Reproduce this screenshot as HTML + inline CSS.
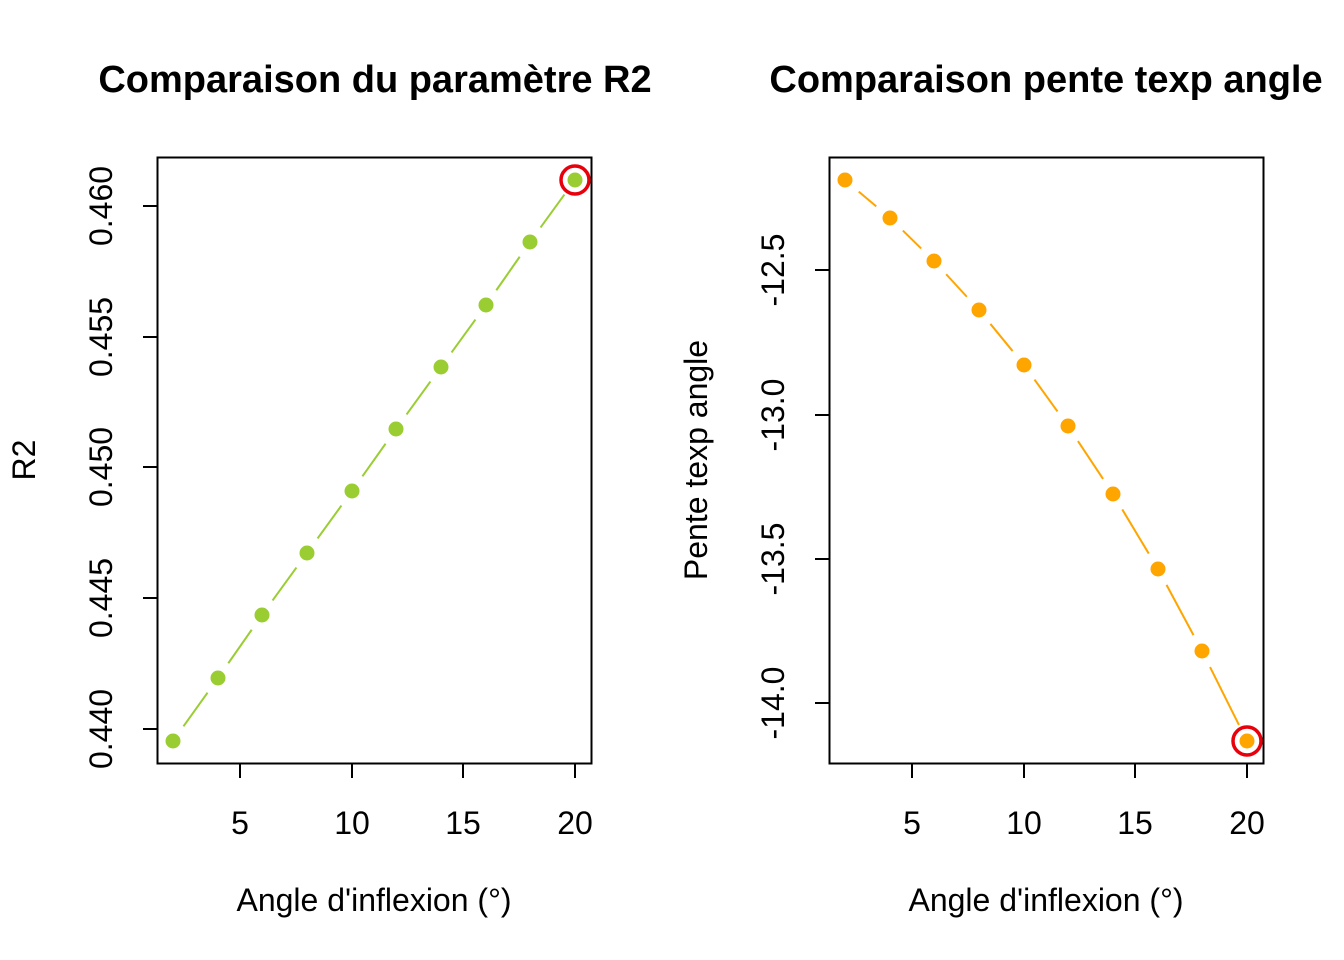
<!DOCTYPE html>
<html><head><meta charset="utf-8"><style>body{margin:0;background:#fff}svg{display:block}</style></head>
<body>
<svg id="s" width="1344" height="960" viewBox="0 0 1344 960" xmlns="http://www.w3.org/2000/svg" font-family="Liberation Sans, sans-serif">
<rect width="1344" height="960" fill="#fff"/>
<text x="375" y="92" font-size="38" font-weight="bold" text-anchor="middle">Comparaison du paramètre R2</text>
<rect x="157.5" y="157.5" width="434" height="606" fill="none" stroke="#000" stroke-width="2"/>
<g stroke="#000" stroke-width="2">
<line x1="240" y1="764" x2="240" y2="778"/><line x1="352" y1="764" x2="352" y2="778"/><line x1="463" y1="764" x2="463" y2="778"/><line x1="575" y1="764" x2="575" y2="778"/>
<line x1="157" y1="206" x2="143" y2="206"/><line x1="157" y1="337" x2="143" y2="337"/><line x1="157" y1="467" x2="143" y2="467"/><line x1="157" y1="598" x2="143" y2="598"/><line x1="157" y1="729" x2="143" y2="729"/>
</g>
<g font-size="32" text-anchor="middle">
<text x="240" y="834">5</text><text x="352" y="834">10</text><text x="463" y="834">15</text><text x="575" y="834">20</text>
<text transform="translate(112,206) rotate(-90)">0.460</text>
<text transform="translate(112,337) rotate(-90)">0.455</text>
<text transform="translate(112,467) rotate(-90)">0.450</text>
<text transform="translate(112,598) rotate(-90)">0.445</text>
<text transform="translate(112,729) rotate(-90)">0.440</text>
<text x="374" y="911">Angle d'inflexion (°)</text>
<text transform="translate(35,460) rotate(-90)">R2</text>
</g>
<g id="L1" stroke="#9ACD32" stroke-width="2"></g>
<g fill="#9ACD32">
<circle cx="173" cy="741" r="7.5"/><circle cx="218" cy="678" r="7.5"/><circle cx="262" cy="615" r="7.5"/><circle cx="307" cy="553" r="7.5"/><circle cx="352" cy="491" r="7.5"/><circle cx="396" cy="429" r="7.5"/><circle cx="441" cy="367" r="7.5"/><circle cx="486" cy="305" r="7.5"/><circle cx="530" cy="242" r="7.5"/><circle cx="575" cy="180" r="7.5"/>
</g>
<circle cx="575" cy="180" r="14" fill="none" stroke="#E8000B" stroke-width="3.5"/>

<text x="1046" y="92" font-size="38" font-weight="bold" text-anchor="middle">Comparaison pente texp angle</text>
<rect x="829.5" y="157.5" width="434" height="606" fill="none" stroke="#000" stroke-width="2"/>
<g stroke="#000" stroke-width="2">
<line x1="912" y1="764" x2="912" y2="778"/><line x1="1024" y1="764" x2="1024" y2="778"/><line x1="1135" y1="764" x2="1135" y2="778"/><line x1="1247" y1="764" x2="1247" y2="778"/>
<line x1="829" y1="270" x2="815" y2="270"/><line x1="829" y1="415" x2="815" y2="415"/><line x1="829" y1="559" x2="815" y2="559"/><line x1="829" y1="703" x2="815" y2="703"/>
</g>
<g font-size="32" text-anchor="middle">
<text x="912" y="834">5</text><text x="1024" y="834">10</text><text x="1135" y="834">15</text><text x="1247" y="834">20</text>
<text transform="translate(784,270) rotate(-90)">-12.5</text>
<text transform="translate(784,415) rotate(-90)">-13.0</text>
<text transform="translate(784,559) rotate(-90)">-13.5</text>
<text transform="translate(784,703) rotate(-90)">-14.0</text>
<text x="1046" y="911">Angle d'inflexion (°)</text>
<text transform="translate(707,460) rotate(-90)">Pente texp angle</text>
</g>
<g id="L2" stroke="#FFA500" stroke-width="2"></g>
<g fill="#FFA500">
<circle cx="845" cy="180" r="7.5"/><circle cx="890" cy="218" r="7.5"/><circle cx="934" cy="261" r="7.5"/><circle cx="979" cy="310" r="7.5"/><circle cx="1024" cy="365" r="7.5"/><circle cx="1068" cy="426" r="7.5"/><circle cx="1113" cy="494" r="7.5"/><circle cx="1158" cy="569" r="7.5"/><circle cx="1202" cy="651" r="7.5"/><circle cx="1247" cy="741" r="7.5"/>
</g>
<circle cx="1247" cy="741" r="14" fill="none" stroke="#E8000B" stroke-width="3.5"/>
</svg>
<script>
function seg(id,pts){var g=document.getElementById(id),h='';for(var i=0;i<pts.length-1;i++){var a=pts[i],b=pts[i+1],dx=b[0]-a[0],dy=b[1]-a[1],d=Math.hypot(dx,dy),t=18/d;if(t>=0.5)continue;h+='<line x1="'+(a[0]+dx*t)+'" y1="'+(a[1]+dy*t)+'" x2="'+(b[0]-dx*t)+'" y2="'+(b[1]-dy*t)+'"/>';}g.innerHTML=h;}
seg('L1',[[173,741],[218,678],[262,615],[307,553],[352,491],[396,429],[441,367],[486,305],[530,242],[575,180]]);
seg('L2',[[845,180],[890,218],[934,261],[979,310],[1024,365],[1068,426],[1113,494],[1158,569],[1202,651],[1247,741]]);
</script>
</body></html>
